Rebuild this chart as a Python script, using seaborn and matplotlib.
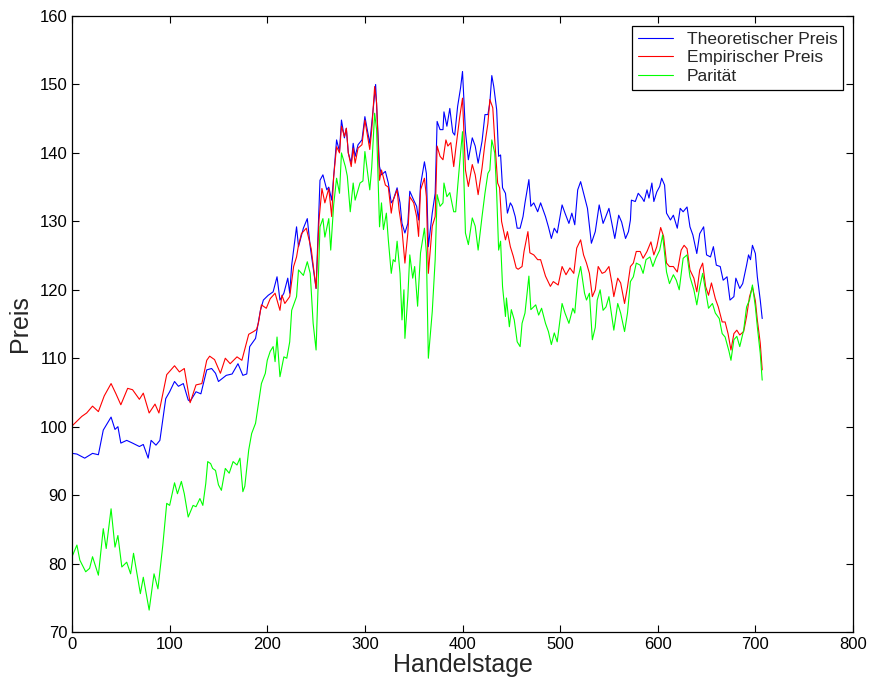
import numpy as np
import pandas as pd
import matplotlib
matplotlib.use("Agg")
import matplotlib.pyplot as plt
import seaborn as sns

# Werte (Handelstag, Preis)
blue_days = [0, 5, 13, 21, 27, 32, 40, 44, 47, 50, 56, 62, 69, 73, 78, 81, 86, 90, 96, 100,
             105, 109, 114, 119, 121, 127, 132, 138, 143, 147, 150, 158, 164, 170, 175, 179, 182, 188, 193, 196,
             201, 206, 210, 213, 217, 221, 223, 225, 230, 232, 237, 241, 244, 250, 254, 257, 261, 263, 266, 268,
             271, 274, 276, 279, 281, 283, 286, 288, 290, 293, 297, 300, 305, 307, 311, 315, 317, 321, 324, 327,
             329, 333, 336, 338, 341, 344, 346, 350, 353, 355, 357, 361, 363, 365, 369, 372, 374, 377, 380, 381,
             384, 387, 390, 392, 395, 398, 400, 403, 406, 410, 413, 416, 420, 423, 426, 428, 430, 432, 435, 437,
             439, 441, 444, 446, 449, 451, 454, 456, 459, 462, 464, 468, 470, 473, 477, 480, 485, 488, 491, 494,
             497, 502, 505, 509, 512, 515, 518, 521, 525, 528, 532, 536, 540, 544, 546, 550, 553, 556, 560, 563,
             567, 570, 572, 573, 577, 580, 584, 586, 589, 591, 594, 596, 599, 602, 604, 607, 609, 613, 616, 620,
             623, 626, 630, 633, 636, 640, 643, 647, 650, 654, 657, 660, 664, 667, 671, 674, 678, 680, 684, 687,
             691, 693, 695, 697, 700, 702, 705, 707]
blue_vals = [96.1, 96.0, 95.4, 96.1, 95.9, 99.5, 101.4, 99.6, 100.0, 97.6, 98.0, 97.6, 97.1, 97.4, 95.4, 98.0, 97.3, 98.0, 104.1, 105.1,
             106.6, 105.9, 106.3, 103.9, 103.7, 105.1, 104.8, 108.3, 108.5, 107.8, 106.6, 107.5, 107.7, 109.2, 107.5, 107.7, 111.7, 112.9, 117.0, 118.5,
             119.2, 119.7, 121.9, 118.5, 119.5, 121.7, 119.5, 123.6, 129.2, 126.3, 129.0, 130.4, 126.3, 120.2, 136.0, 136.8, 134.6, 135.0, 133.1, 136.5,
             141.9, 140.2, 144.8, 142.2, 143.6, 140.0, 138.5, 141.4, 139.5, 141.2, 141.9, 145.3, 141.4, 144.3, 150.0, 138.0, 136.8, 137.3, 135.6, 132.7,
             133.1, 134.9, 132.7, 129.7, 128.3, 129.7, 134.4, 133.1, 132.2, 130.2, 135.3, 138.7, 137.0, 126.3, 131.2, 134.1, 144.6, 143.4, 143.4, 146.0,
             143.9, 146.5, 143.0, 142.6, 146.8, 149.5, 151.9, 143.1, 139.0, 142.2, 141.0, 138.5, 141.7, 145.6, 145.6, 147.3, 151.3, 149.7, 146.3, 139.5,
             139.7, 134.9, 134.1, 131.2, 132.7, 132.2, 130.7, 129.0, 129.0, 130.7, 132.7, 136.1, 132.2, 132.7, 131.4, 132.7, 130.7, 129.2, 127.5, 129.0,
             128.3, 132.4, 131.2, 129.7, 131.2, 129.5, 134.6, 135.8, 133.6, 131.9, 126.8, 128.5, 132.4, 129.7, 130.4, 131.9, 129.7, 127.5, 130.9, 129.9,
             127.5, 128.5, 130.2, 133.1, 132.9, 134.1, 133.4, 132.9, 134.6, 133.4, 135.6, 132.9, 134.3, 135.1, 136.3, 135.3, 131.2, 130.2, 130.9, 129.0,
             131.9, 131.4, 132.1, 129.2, 128.0, 125.3, 128.2, 129.2, 125.1, 124.8, 126.3, 123.6, 123.4, 121.4, 121.9, 118.5, 119.0, 121.7, 120.2, 120.9,
             123.6, 125.1, 124.4, 126.5, 125.3, 121.9, 118.5, 115.8]

red_days = [0, 5, 10, 15, 21, 27, 33, 40, 45, 50, 57, 62, 69, 73, 79, 85, 89, 97, 105, 110,
            115, 121, 127, 133, 138, 141, 146, 152, 157, 162, 169, 174, 181, 186, 189, 191, 194, 199, 203, 208,
            213, 215, 218, 223, 227, 230, 232, 235, 240, 245, 250, 253, 256, 259, 263, 266, 268, 271, 274, 276,
            279, 281, 283, 286, 288, 290, 293, 297, 300, 305, 307, 310, 312, 315, 317, 321, 324, 327, 329, 333,
            335, 338, 341, 344, 346, 350, 353, 355, 357, 361, 363, 365, 369, 372, 374, 377, 380, 383, 385, 388,
            391, 393, 397, 400, 403, 406, 410, 413, 416, 420, 423, 426, 428, 431, 433, 436, 438, 440, 444, 446,
            449, 452, 455, 457, 461, 463, 467, 469, 473, 477, 480, 485, 490, 493, 498, 502, 506, 510, 514, 517,
            521, 524, 527, 530, 533, 536, 539, 543, 546, 550, 553, 555, 559, 562, 566, 569, 572, 575, 578, 582,
            585, 589, 593, 596, 599, 603, 606, 609, 612, 616, 620, 624, 627, 630, 633, 637, 640, 643, 646, 649,
            652, 655, 659, 662, 666, 669, 672, 675, 678, 681, 684, 688, 691, 694, 697, 700, 702, 705, 707]
red_vals = [100.1, 100.8, 101.5, 102.0, 103.0, 102.2, 104.5, 106.3, 104.8, 103.2, 105.6, 105.4, 104.0, 104.9, 102.0, 103.3, 102.0, 107.6, 108.9, 108.0,
            108.5, 103.5, 106.1, 106.3, 109.7, 110.3, 109.8, 107.8, 110.0, 109.2, 110.2, 109.7, 113.5, 113.9, 114.2, 115.2, 117.8, 117.3, 118.7, 119.5,
            117.0, 119.2, 118.0, 119.0, 123.4, 124.8, 126.5, 128.2, 129.0, 126.0, 120.2, 130.2, 134.8, 132.7, 134.8, 130.7, 136.5, 140.9, 140.0, 143.9,
            142.4, 143.6, 140.0, 138.0, 140.7, 138.5, 140.7, 141.2, 144.8, 140.5, 143.4, 149.7, 147.3, 136.0, 137.5, 135.3, 135.0, 131.2, 133.1, 134.6,
            131.7, 128.8, 123.9, 128.3, 133.6, 132.7, 130.7, 127.8, 134.6, 136.3, 133.6, 122.4, 129.3, 130.7, 141.0, 139.5, 139.0, 141.9, 141.0, 141.5,
            138.0, 140.5, 145.1, 148.0, 137.5, 135.1, 138.3, 136.8, 133.9, 137.8, 141.4, 144.3, 147.8, 146.6, 141.9, 135.6, 134.9, 130.0, 127.3, 128.5,
            126.3, 124.9, 123.2, 123.0, 123.4, 125.6, 128.5, 125.4, 125.1, 124.4, 124.4, 122.0, 120.5, 121.2, 120.7, 123.4, 122.2, 123.2, 122.4, 126.1,
            127.3, 125.1, 123.9, 122.4, 119.0, 120.0, 123.4, 122.4, 122.6, 123.4, 121.0, 119.0, 121.7, 121.0, 118.0, 120.4, 123.4, 123.9, 125.6, 125.6,
            124.6, 125.6, 127.0, 125.1, 126.3, 129.1, 127.8, 123.9, 123.4, 123.4, 122.6, 125.8, 126.5, 126.0, 122.9, 121.7, 119.7, 122.9, 123.9, 120.5,
            119.2, 121.0, 118.7, 117.5, 115.3, 115.3, 113.6, 111.2, 113.6, 114.1, 113.4, 113.9, 116.1, 119.0, 120.4, 118.4, 115.6, 112.2, 108.3]

green_days = [0, 5, 8, 14, 18, 21, 27, 32, 35, 40, 44, 47, 51, 56, 60, 63, 70, 73, 79, 84,
              88, 93, 97, 100, 105, 108, 112, 115, 119, 124, 127, 131, 134, 137, 139, 142, 144, 147, 150, 153,
              157, 161, 165, 169, 172, 175, 177, 181, 184, 188, 191, 194, 198, 200, 203, 206, 208, 210, 213, 217,
              220, 223, 225, 230, 232, 237, 241, 244, 247, 250, 254, 257, 259, 263, 265, 268, 271, 274, 276, 280,
              282, 285, 288, 290, 292, 295, 298, 300, 305, 307, 310, 312, 315, 317, 319, 322, 324, 327, 329, 331,
              333, 336, 338, 340, 341, 344, 346, 349, 351, 354, 357, 361, 363, 365, 369, 372, 374, 377, 380, 381,
              384, 387, 391, 393, 395, 398, 400, 403, 406, 410, 413, 416, 420, 423, 426, 428, 430, 433, 435, 437,
              439, 441, 444, 445, 448, 450, 453, 456, 459, 461, 464, 468, 470, 475, 478, 481, 485, 488, 491, 494,
              497, 502, 505, 509, 513, 515, 518, 521, 525, 527, 530, 533, 536, 538, 541, 544, 547, 550, 553, 555,
              559, 562, 566, 569, 572, 575, 578, 582, 585, 588, 592, 595, 598, 602, 605, 609, 612, 616, 619, 622,
              626, 630, 633, 637, 640, 643, 646, 650, 652, 656, 659, 663, 666, 669, 673, 675, 678, 681, 684, 688,
              691, 694, 697, 700, 702, 705, 707]
green_vals = [81.0, 82.7, 80.5, 78.8, 79.3, 81.0, 78.3, 85.1, 82.2, 88.0, 82.4, 84.1, 79.5, 80.2, 78.5, 81.5, 75.6, 78.0, 73.2, 78.5,
              76.3, 82.7, 88.8, 88.5, 91.8, 90.2, 92.0, 90.2, 86.8, 88.5, 88.3, 89.5, 88.5, 91.7, 94.9, 94.6, 93.9, 93.6, 91.5, 90.7,
              93.9, 93.2, 94.9, 94.4, 95.4, 90.5, 91.3, 96.6, 99.0, 100.5, 103.4, 106.3, 107.8, 109.7, 111.0, 111.7, 109.5, 113.1, 107.3, 110.2,
              110.0, 112.4, 117.0, 119.0, 122.9, 122.1, 124.1, 122.4, 115.1, 111.2, 129.2, 130.4, 127.7, 130.4, 125.8, 132.4, 136.3, 134.1, 140.0, 138.0,
              136.6, 131.4, 135.6, 133.1, 134.1, 135.6, 135.9, 140.2, 134.6, 137.9, 145.8, 143.4, 129.2, 132.7, 128.8, 131.2, 127.3, 122.4, 124.4, 124.1,
              127.1, 122.4, 115.6, 120.0, 112.9, 119.0, 125.1, 121.7, 123.4, 117.6, 125.4, 129.0, 125.4, 110.0, 116.8, 124.4, 133.9, 132.2, 132.7, 135.6,
              133.6, 134.2, 131.4, 131.4, 135.0, 140.0, 143.1, 128.3, 126.6, 130.5, 129.3, 125.8, 130.7, 134.1, 137.0, 137.5, 141.9, 140.0, 134.1, 125.8,
              127.1, 120.5, 116.1, 118.8, 114.6, 117.1, 115.6, 112.4, 111.7, 115.1, 116.6, 122.0, 117.1, 117.8, 116.3, 117.3, 115.1, 113.9, 112.0, 113.7,
              112.4, 118.0, 116.6, 115.1, 117.3, 116.6, 121.5, 123.4, 119.5, 118.5, 119.5, 112.7, 114.5, 118.5, 120.0, 117.0, 117.5, 119.0, 116.1, 114.1,
              118.0, 116.6, 113.9, 116.6, 121.2, 121.9, 123.9, 123.6, 122.4, 124.4, 124.8, 123.4, 124.6, 125.8, 128.0, 122.6, 120.9, 122.2, 121.4, 120.0,
              124.6, 125.1, 121.9, 120.0, 117.8, 120.4, 122.4, 119.0, 117.3, 118.0, 116.6, 115.8, 113.6, 113.1, 111.0, 109.7, 112.7, 113.2, 111.7, 114.1,
              117.5, 118.5, 120.7, 117.5, 114.6, 110.7, 106.8]

sns.set_style("ticks")
plt.rcParams['font.family'] = ['Liberation Sans', 'DejaVu Sans']

fig = plt.figure(figsize=(8.72, 6.88), dpi=100)
ax = fig.add_axes([0.0826, 0.0814, 0.8956, 0.8953])

sns.lineplot(x=blue_days, y=blue_vals, color=(0, 0, 1), linewidth=0.8, label="Theoretischer Preis", ax=ax)
sns.lineplot(x=red_days, y=red_vals, color=(1, 0, 0), linewidth=0.8, label="Empirischer Preis", ax=ax)
sns.lineplot(x=green_days, y=green_vals, color=(0, 1, 0), linewidth=0.8, label="Parität", ax=ax)

ax.set_xlim(0, 800)
ax.set_ylim(70, 160)
ax.set_xticks(np.arange(0, 801, 100))
ax.set_yticks(np.arange(70, 161, 10))
ax.tick_params(direction="in", top=True, right=True, length=5, width=0.8, labelsize=12, colors="black")
for s in ax.spines.values():
    s.set_visible(True)
    s.set_color("black")
    s.set_linewidth(0.9)

ax.set_xlabel("Handelstage", fontsize=18, labelpad=1)
ax.set_ylabel("Preis", fontsize=18, labelpad=5)

leg = ax.legend(loc="upper right", fancybox=False, edgecolor="black", framealpha=1,
                fontsize=12.5, handlelength=2.0, borderaxespad=0.55, labelspacing=0.2,
                borderpad=0.35, handletextpad=0.8)
leg.get_frame().set_linewidth(0.9)

fig.savefig("out.png", dpi=100)
